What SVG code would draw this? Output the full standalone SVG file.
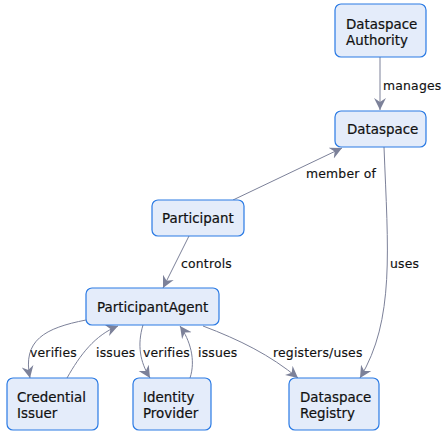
<svg xmlns="http://www.w3.org/2000/svg" width="444" height="435" viewBox="0 0 444 435">
<style>
.node rect{fill:#e4ecfa;stroke:#2a7ae4;stroke-width:1.2}
.node text{font-family:"DejaVu Sans",sans-serif;font-size:13.4px;fill:#111111;stroke:#111111;stroke-width:0.2}
.edges path{fill:none;stroke:#7c8199;stroke-width:1}
.lbl{font-family:"DejaVu Sans",sans-serif;font-size:12.4px;letter-spacing:0.2px;fill:#111111;stroke:#111111;stroke-width:0.15}
</style>
<defs>
<marker id="ah" markerUnits="userSpaceOnUse" markerWidth="13" markerHeight="13" viewBox="0 0 12 12" refX="11" refY="6" orient="auto">
<path d="M0,0.5 L11,6 L0,11.5 L3.5,6 z" fill="#7c8199"/>
</marker>
</defs>
<rect width="444" height="435" fill="#ffffff"/>
<g class="edges">
<path d="M380,57 L380,110" marker-end="url(#ah)"/>
<path d="M233,200 L342,148" marker-end="url(#ah)"/>
<path d="M189,236 L163,288" marker-end="url(#ah)"/>
<path d="M384,147 C388,250 395,320 360,378" marker-end="url(#ah)"/>
<path d="M86,320 C45,328 22,340 30,378" marker-end="url(#ah)"/>
<path d="M67,378 C80,355 95,335 118,326" marker-end="url(#ah)"/>
<path d="M143,325 C137,345 140,362 150,378" marker-end="url(#ah)"/>
<path d="M190,378 C196,360 190,340 180,326" marker-end="url(#ah)"/>
<path d="M203,326 C240,340 270,355 298,378" marker-end="url(#ah)"/>
</g>
<g class="labels">
<text class="lbl" x="383" y="90">manages</text>
<text class="lbl" x="306" y="178">member of</text>
<text class="lbl" x="181" y="268">controls</text>
<text class="lbl" x="390" y="268">uses</text>
<text class="lbl" x="30" y="357">verifies</text>
<text class="lbl" x="96" y="357">issues</text>
<text class="lbl" x="143" y="357">verifies</text>
<text class="lbl" x="198" y="357">issues</text>
<text class="lbl" x="273" y="357">registers/uses</text>
</g>
<g id="dataspace-authority" class="node">
<rect x="335" y="4" width="91" height="53" rx="6"/>
<text x="346" y="29">Dataspace</text>
<text x="346" y="45">Authority</text>
</g>
<g id="dataspace" class="node">
<rect x="335" y="111" width="91" height="36" rx="6"/>
<text x="347" y="134">Dataspace</text>
</g>
<g id="participant" class="node">
<rect x="152" y="200" width="92" height="36" rx="6"/>
<text x="162" y="223">Participant</text>
</g>
<g id="participant-agent" class="node">
<rect x="86" y="288" width="133" height="37" rx="6"/>
<text x="97" y="312">ParticipantAgent</text>
</g>
<g id="credential-issuer" class="node">
<rect x="7" y="378" width="91" height="52" rx="6"/>
<text x="17" y="402">Credential</text>
<text x="17" y="418">Issuer</text>
</g>
<g id="identity-provider" class="node">
<rect x="133" y="378" width="78" height="52" rx="6"/>
<text x="143" y="402">Identity</text>
<text x="143" y="418">Provider</text>
</g>
<g id="dataspace-registry" class="node">
<rect x="289" y="378" width="90" height="52" rx="6"/>
<text x="300" y="402">Dataspace</text>
<text x="300" y="418">Registry</text>
</g>
</svg>
